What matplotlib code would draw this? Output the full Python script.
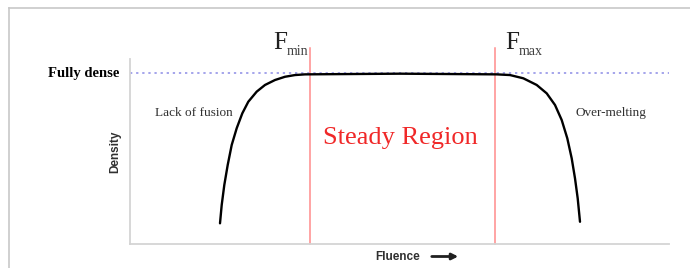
import matplotlib
matplotlib.use("Agg")
import matplotlib.pyplot as plt
from matplotlib.lines import Line2D

# curve (fluence in arbitrary units, density relative to fully dense)
fluence = [90, 91.7, 94.3, 97.7, 101.7, 106.7, 112.3, 118.3, 126.7, 135, 145, 155, 165, 175,
           270,
           366.7, 380, 393.3, 406.7, 416.7, 425, 431.7, 437.3, 441.7, 445, 447.7, 450]
density = [0.121, 0.228, 0.345, 0.462, 0.579, 0.677, 0.764, 0.832, 0.891, 0.930, 0.959, 0.978, 0.988, 0.992,
           0.996,
           0.992, 0.988, 0.969, 0.930, 0.881, 0.813, 0.725, 0.618, 0.501, 0.384, 0.267, 0.130]

f_min = 180
f_max = 365
fully_dense = 1.0

fig = plt.figure(figsize=(6.9, 2.68), dpi=100)
ax = fig.add_axes([130 / 690, 24 / 268, 539 / 690, 185 / 268])
ax.set_xlim(0, 539)
ax.set_ylim(0, 185 / 171)

# outer frame (top and left only)
frame = "#c8c8c8"
fig.add_artist(Line2D([9 / 690, 9 / 690], [1 - 8 / 268, 0], color=frame, lw=1.2))
fig.add_artist(Line2D([9 / 690, 1], [1 - 8 / 268, 1 - 8 / 268], color=frame, lw=1.2))

for s in ["top", "right"]:
    ax.spines[s].set_visible(False)
for s in ["left", "bottom"]:
    ax.spines[s].set_color("#d4d4d4")
    ax.spines[s].set_linewidth(1.3)
ax.set_xticks([])
ax.set_yticks([])

ax.axhline(fully_dense, color="#8c8ce6", lw=1.1, ls=(0, (1.5, 2.5)))
for f in [f_min, f_max]:
    ax.plot([f, f], [0, 196 / 171], color="#ff8c8c", lw=1.1, clip_on=False)

ax.plot(fluence, density, color="black", lw=1.7, solid_capstyle="round", solid_joinstyle="round")

serif = "Liberation Serif"
sans = "Liberation Sans"
for f, sub in [(f_min, "min"), (f_max, "max")]:
    x0 = f - 37 if sub == "min" else f + 10
    ax.text(x0, 1.14, "F", family=serif, fontsize=18, ha="left", va="baseline", color="#202020")
    ax.text(x0 + 14, 1.103, sub, family=serif, fontsize=10, ha="left", va="baseline",
            color="#404040")
ax.text(-11, fully_dense, "Fully dense", family=serif, fontweight="bold", fontsize=10.5,
        ha="right", va="center")
ax.text(25, 0.766, "Lack of fusion", family=serif, fontsize=9.5, ha="left", va="center",
        color="#303030")
ax.text(445, 0.766, "Over-melting", family=serif, fontsize=9.5, ha="left", va="center",
        color="#303030")
ax.text(270, 0.62, "Steady Region", family=serif, fontsize=19, color="#f02828",
        ha="center", va="center")
ax.text(-15, 0.54, "Density", family=sans, fontweight="bold", fontsize=8.5, color="#303030",
        rotation=90, ha="center", va="center")

fig.text(375 / 690, 11.5 / 268, "Fluence", family=sans, fontweight="bold", fontsize=8.5,
         color="#303030", ha="left", va="center")
ax.annotate("", xy=(461, 11.5), xytext=(429, 11.5), xycoords="figure pixels",
            textcoords="figure pixels",
            arrowprops=dict(arrowstyle="-|>", color="#202020", lw=2, mutation_scale=9))

fig.savefig("out.png", dpi=100)
